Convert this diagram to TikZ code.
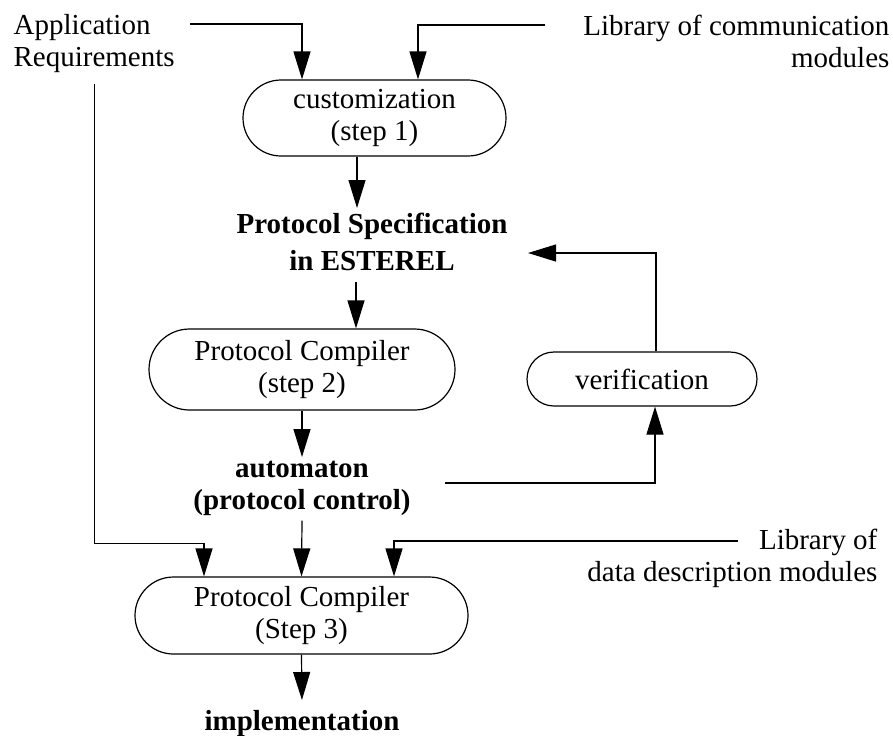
\documentclass[tikz,border=0pt]{standalone}
\usepackage{fontspec}
\setmainfont{Liberation Serif}
\usetikzlibrary{arrows.meta,calc,shapes.misc}

\begin{document}
\begin{tikzpicture}[
                x=0.5pt, y=-0.5pt,
                line width=0.6pt,
                Flow/.style={-{Triangle[length=14pt, width=8.5pt]}},
                Label/.style={font=\fontsize{14.5pt}{16pt}\selectfont, inner sep=0pt},
                Result/.style={font=\fontsize{14.5pt}{16pt}\selectfont\bfseries, inner sep=2pt, align=center},
                StepBox/.style={draw, rounded rectangle, inner sep=0pt, align=center,
                                font=\fontsize{14.5pt}{16pt}\selectfont},
            ]
            \useasboundingbox (0,0) rectangle (893,735);

            % inputs
            \node [Label, anchor=north west, align=left] (appreq) at (13,14) {Application\\Requirements};
            \node [Label, anchor=north east, align=right] (commlib) at (890,14) {Library of communication\\modules};
            \node [Label, anchor=north east, align=right] (datalib) at (878,528) {Library of\\data description modules};

            % steps
            \node [StepBox, minimum width=131.5pt, minimum height=38pt] (custom) at (374.5,118) {customization\\(step 1)};
            \node [Result, anchor=north] (spec) at (372,208) {Protocol Specification\\[2.5pt]in ESTEREL};
            \node [StepBox, minimum width=153pt, minimum height=40.5pt] (comp2) at (302,369.5) {Protocol Compiler\\(step 2)};
            \node [StepBox, minimum width=115pt, minimum height=27pt] (verif) at (642,379) {verification};
            \node [Result, anchor=north] (auto) at (302,457) {automaton\\(protocol control)};
            \node [StepBox, minimum width=166.5pt, minimum height=38.5pt] (comp3) at (301.5,615.5) {Protocol Compiler\\(Step 3)};
            \node [Result, anchor=north] (impl) at (302,706) {implementation};

            \coordinate (appout) at (190,24);
            \coordinate (commout) at (545,25);
            \coordinate (dataout) at (738,541);
            \coordinate (autoout) at (445,483);
            \coordinate (specin) at (528,253);

            \draw [Flow] (appout) -| ($(custom.north)+(-72.5,0)$);
            \draw [Flow] (commout) -| ($(custom.north)+(43.5,0)$);
            \draw [Flow] ($(custom.south)+(-17.5,0)$) -- ($(spec.north)+(-15,0)$);
            \draw [Flow, shorten <=3.5pt] ($(spec.south)+(-16,0)$) -- ($(comp2.north)+(54,0)$);
            \draw [Flow] (comp2.south) -- (auto.north);
            \draw [Flow] (autoout) -| ($(verif.south)+(13,0)$);
            \draw [Flow] ($(verif.north)+(14,0)$) |- (specin);
            \draw [Flow, shorten <=5pt] (appreq.south) |- ($(comp3.north)+(-97.5,-33)$) -- ($(comp3.north)+(-97.5,0)$);
            \draw [Flow] (auto.south) -- (comp3.north);
            \draw [Flow] (dataout) -| ($(comp3.north)+(92.5,0)$);
            \draw [Flow, shorten >=3pt] (comp3.south) -- (impl.north);
        \end{tikzpicture}
\end{document}
